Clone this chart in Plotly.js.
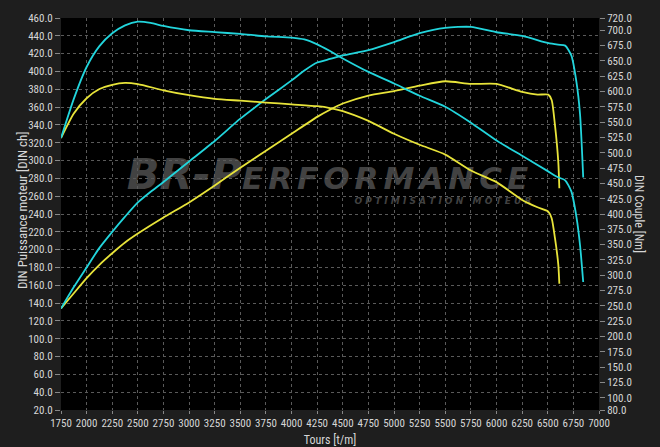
<!DOCTYPE html>
<html>
<head>
<meta charset="utf-8">
<script src="https://cdn.plot.ly/plotly-3.0.1.min.js"></script>
<style>html,body{margin:0;padding:0;background:#1e1e1e;}#chart{width:660px;height:447px;}</style>
</head>
<body>
<div id="chart"></div>
<script>
// Tuned (cyan)
const rpmTuned = [1750,1875,2000,2125,2250,2375,2500,2625,2750,3000,3250,3500,3750,4000,4125,4250,4375,4500,4750,5000,5250,5500,5750,6000,6250,6500,6600,6670,6730,6780,6815,6846];
const powerTuned = [134,158,180,202,220,237,253,265,276,299,322,347,369,390,401,410,414,418,424,433,443,449,450,444,440,432,430,429,418,388,352,281];
const torqueTuned = [524,588,640,674,695,708,714,712,707,700,697,694,690,688,685,677,666,654,632,613,593,575,549,520,495,470,460,455,437,395,349,289];
// Stock (yellow)
const rpmStock = [1750,1875,2000,2125,2250,2375,2500,2750,3000,3250,3500,3750,4000,4250,4375,4500,4750,5000,5250,5500,5750,6000,6250,6400,6505,6538,6570,6603,6613];
const powerStock = [134,151,168,183,196,208,218,236,253,272,292,311,330,349,357,364,373,378,384,389,386,386,377,374,374,368,340,298,269];
const torqueStock = [524,564,589,604,611,614,612,602,594,588,585,582,579,576,573,568,552,531,513,497,471,452,423,411,404,393,361,317,286];

const xTicks = [1750,2000,2250,2500,2750,3000,3250,3500,3750,4000,4250,4500,4750,5000,5250,5500,5750,6000,6250,6500,6750,7000];
const y2Ticks = [80,100,125,150,175,200,225,250,275,300,325,350,375,400,425,450,475,500,525,550,575,600,625,650,675,700,720];

const CYAN = '#22d5dc';
const YELLOW = '#e8e43a';
const FONT = 'Liberation Sans Narrow, Roboto Condensed, Roboto, sans-serif';
const lineCommon = {shape:'spline', smoothing:0.6, width:1.8};

const traces = [
  {x: rpmStock, y: powerStock, yaxis:'y', mode:'lines', line:Object.assign({color:YELLOW}, lineCommon), name:'Puissance origine'},
  {x: rpmStock, y: torqueStock, yaxis:'y2', mode:'lines', line:Object.assign({color:YELLOW}, lineCommon), name:'Couple origine'},
  {x: rpmTuned, y: powerTuned, yaxis:'y', mode:'lines', line:Object.assign({color:CYAN}, lineCommon), name:'Puissance optimisée'},
  {x: rpmTuned, y: torqueTuned, yaxis:'y2', mode:'lines', line:Object.assign({color:CYAN}, lineCommon), name:'Couple optimisé'}
];

const tickFont = {family: FONT, size: 11, color: '#d6d6d6'};
const layout = {
  width: 660, height: 447,
  margin: {l:61, r:61, t:18, b:37, pad:0},
  paper_bgcolor: '#1e1e1e',
  plot_bgcolor: '#000000',
  showlegend: false,
  font: {family: FONT, color:'#d6d6d6', size: 11},
  xaxis: {
    range: [1750, 7000], tickmode:'array', tickvals: xTicks, ticktext: xTicks.map(String),
    showgrid: true, gridcolor: '#5a5a5a', griddash: 'dot', gridwidth: 1,
    zeroline: false, showline: false, ticks: 'outside', ticklen: 3, tickcolor: '#888',
    tickfont: tickFont, tickangle: 0,
    title: {text: 'Tours [t/m]', font: {family: FONT, size: 12, color:'#d6d6d6'}, standoff: 6}
  },
  yaxis: {
    range: [20, 460], tickmode:'linear', tick0: 20, dtick: 20, tickformat: '.1f',
    showgrid: true, gridcolor: '#5a5a5a', griddash: 'dot', gridwidth: 1,
    zeroline: false, showline: false, ticks: 'outside', ticklen: 5, tickcolor: '#888',
    tickfont: tickFont
  },
  yaxis2: {
    range: [80, 720], overlaying: 'y', side: 'right', tickmode:'array', tickvals: y2Ticks,
    ticktext: y2Ticks.map(v => v.toFixed(1)),
    showgrid: false, zeroline: false, showline: false, ticks: 'outside', ticklen: 5, tickcolor: '#888',
    tickfont: tickFont
  },
  shapes: [
    {type:'rect', xref:'paper', yref:'paper', x0:0.02, x1:0.98, y0:0.55, y1:0.67, layer:'below',
     line:{width:0}, fillcolor:'rgba(0,0,0,0)',
     label:{text:'BR-P<span style="font-size:31px;letter-spacing:5px">ERFORMANCE</span>', textposition:'middle center',
            font:{family:'DejaVu Sans', size:43, color:'#424242', weight:'bold', style:'italic'}}},
    {type:'rect', xref:'paper', yref:'paper', x0:0.52, x1:0.90, y0:0.51, y1:0.56, layer:'below',
     line:{width:0}, fillcolor:'rgba(0,0,0,0)',
     label:{text:'O P T I M I S A T I O N   M O T E U R', textposition:'middle center',
            font:{family:'DejaVu Sans', size:9, color:'#424242', weight:'bold', style:'italic'}}}
  ],
  annotations: [
    {xref:'paper', yref:'paper', x:-0.0725, y:0.51, xanchor:'center', yanchor:'middle', showarrow:false,
     text:'DIN Puissance moteur [DIN ch]', textangle: -90, font:{family: FONT, size:13, color:'#d6d6d6'}},
    {xref:'paper', yref:'paper', x:1.0745, y:0.5, xanchor:'center', yanchor:'middle', showarrow:false,
     text:'DIN Couple [Nm]', textangle: 90, font:{family: FONT, size:12, color:'#d6d6d6'}}
  ]
};

Plotly.newPlot('chart', traces, layout, {staticPlot:true, displayModeBar:false});
</script>
</body>
</html>
